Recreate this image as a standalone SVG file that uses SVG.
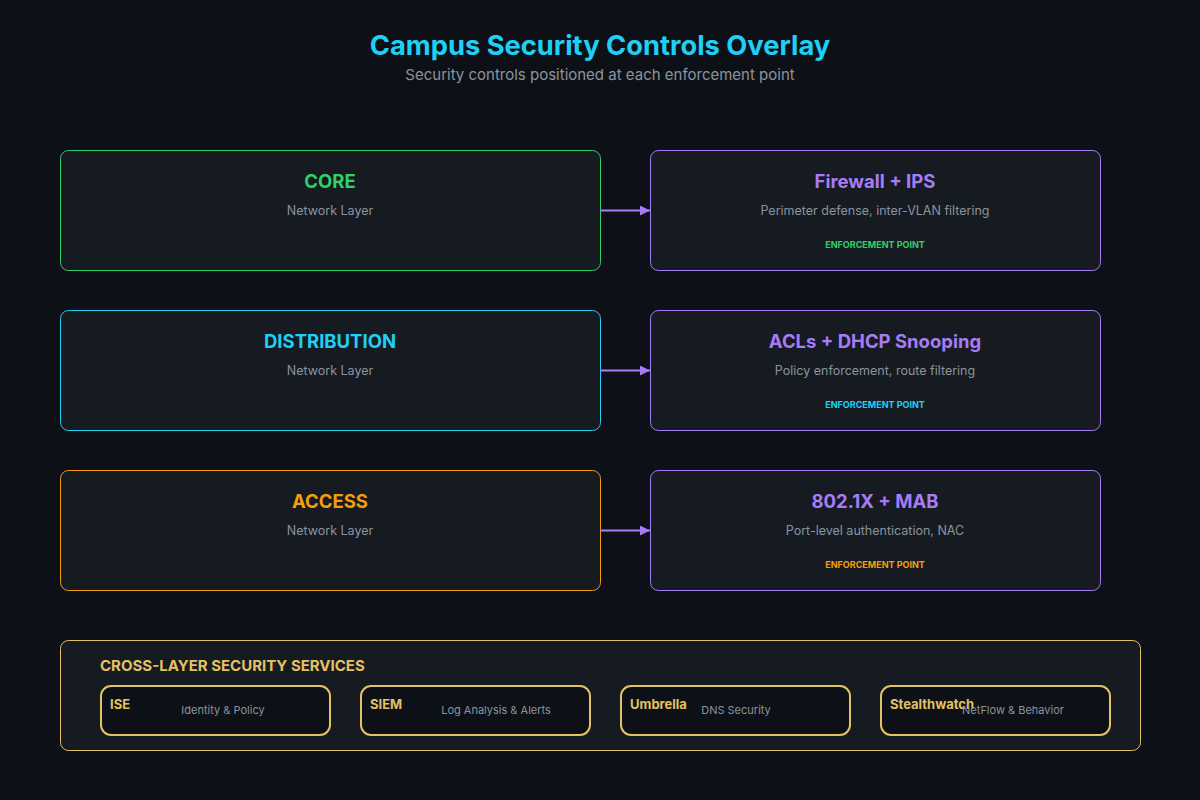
<svg xmlns="http://www.w3.org/2000/svg" width="1200" height="800" viewBox="0 0 1200 800">
<defs>
<marker id="ah" viewBox="0 0 10 10" refX="10" refY="5" markerWidth="10" markerHeight="10" markerUnits="userSpaceOnUse" orient="auto"><path d="M0,0 L10,5 L0,10 z" fill="#a87cf7"/></marker>
<style>
text{font-family:Inter,"Liberation Sans",sans-serif}
.card{fill:#161b22;stroke-width:1}
.t{font-size:18.5px;font-weight:700;text-anchor:middle}
.s{font-size:12.5px;fill:#8b949e;text-anchor:middle}
.e{font-size:9px;font-weight:700;text-anchor:middle}
.svc{fill:#0d1117;stroke:#e3c263;stroke-width:2}
.sn{font-size:13px;font-weight:700;fill:#e3c263}
.sd{font-size:11px;fill:#8b949e;text-anchor:middle}
</style>
</defs>
<rect width="1200" height="800" fill="#0d1117"/>
<text x="600" y="55" text-anchor="middle" font-size="27.3" font-weight="700" fill="#1fd0f5">Campus Security Controls Overlay</text>
<text x="600" y="80" text-anchor="middle" font-size="15" fill="#8b949e">Security controls positioned at each enforcement point</text>

<g id="core"><rect class="card" x="60.5" y="150.5" width="540" height="120" rx="8" stroke="#2fd16a"/><text class="t" x="330" y="188" fill="#2fd16a">CORE</text><text class="s" x="330" y="215">Network Layer</text></g>
<g id="fw"><rect class="card" x="650.5" y="150.5" width="450" height="120" rx="8" stroke="#a87cf7"/><text class="t" x="875" y="188" fill="#a87cf7">Firewall + IPS</text><text class="s" x="875" y="215">Perimeter defense, inter-VLAN filtering</text><text class="e" x="875" y="248" fill="#2fd16a">ENFORCEMENT POINT</text></g>

<g id="dist"><rect class="card" x="60.5" y="310.5" width="540" height="120" rx="8" stroke="#1fd0f5"/><text class="t" x="330" y="348" fill="#1fd0f5">DISTRIBUTION</text><text class="s" x="330" y="375">Network Layer</text></g>
<g id="acl"><rect class="card" x="650.5" y="310.5" width="450" height="120" rx="8" stroke="#a87cf7"/><text class="t" x="875" y="348" fill="#a87cf7">ACLs + DHCP Snooping</text><text class="s" x="875" y="375">Policy enforcement, route filtering</text><text class="e" x="875" y="408" fill="#1fd0f5">ENFORCEMENT POINT</text></g>

<g id="access"><rect class="card" x="60.5" y="470.5" width="540" height="120" rx="8" stroke="#f59e0b"/><text class="t" x="330" y="508" fill="#f59e0b">ACCESS</text><text class="s" x="330" y="535">Network Layer</text></g>
<g id="dot1x"><rect class="card" x="650.5" y="470.5" width="450" height="120" rx="8" stroke="#a87cf7"/><text class="t" x="875" y="508" fill="#a87cf7">802.1X + MAB</text><text class="s" x="875" y="535">Port-level authentication, NAC</text><text class="e" x="875" y="568" fill="#f59e0b">ENFORCEMENT POINT</text></g>

<g id="connectors" stroke="#a87cf7" stroke-width="2" fill="none">
<line x1="600" y1="210.5" x2="650" y2="210.5" marker-end="url(#ah)"/>
<line x1="600" y1="370.5" x2="650" y2="370.5" marker-end="url(#ah)"/>
<line x1="600" y1="530.5" x2="650" y2="530.5" marker-end="url(#ah)"/>
</g>

<g id="services">
<rect x="60.5" y="640.5" width="1080" height="110" rx="8" fill="#161b22" stroke="#e3c263" stroke-width="1"/>
<text x="100" y="671" font-size="15" font-weight="700" fill="#e3c263">CROSS-LAYER SECURITY SERVICES</text>
<g id="ise"><rect class="svc" x="101" y="686" width="229" height="49" rx="10"/><text class="sn" x="110" y="709">ISE</text><text class="sd" x="223" y="714">Identity &amp; Policy</text></g>
<g id="siem"><rect class="svc" x="361" y="686" width="229" height="49" rx="10"/><text class="sn" x="370" y="709">SIEM</text><text class="sd" x="496" y="714">Log Analysis &amp; Alerts</text></g>
<g id="umbrella"><rect class="svc" x="621" y="686" width="229" height="49" rx="10"/><text class="sn" x="630" y="709">Umbrella</text><text class="sd" x="736" y="714">DNS Security</text></g>
<g id="stealthwatch"><rect class="svc" x="881" y="686" width="229" height="49" rx="10"/><text class="sn" x="890" y="709">Stealthwatch</text><text class="sd" x="1013" y="714">NetFlow &amp; Behavior</text></g>
</g>
</svg>
